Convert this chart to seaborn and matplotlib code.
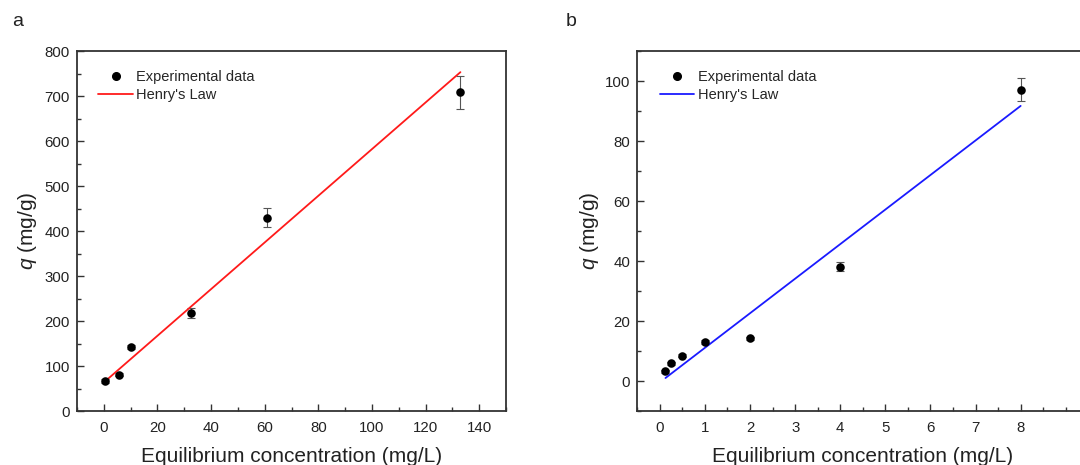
import numpy as np
import pandas as pd
import matplotlib
matplotlib.use("Agg")
import matplotlib.pyplot as plt
import seaborn as sns
from matplotlib.lines import Line2D

# ---------------- data ----------------
a_conc = [0.3, 5.8, 10.3, 32.5, 61.0, 133.0]
a_q = [67, 81, 142, 218, 430, 708]
a_err = [4, 4, 5, 11, 22, 36]
a_fit_x = [0.3, 133.0]
a_fit_y = [65, 753]

b_conc = [0.125, 0.25, 0.5, 1.0, 2.0, 4.0, 8.0]
b_q = [3.3, 6.0, 8.4, 13.1, 14.2, 38.1, 97.1]
b_err = [0.5, 0.5, 0.5, 0.6, 0.6, 1.5, 3.9]
b_fit_x = [0.125, 8.0]
b_fit_y = [1.0, 91.7]

a_xticks = [0, 20, 40, 60, 80, 100, 120, 140]
a_yticks = [0, 100, 200, 300, 400, 500, 600, 700, 800]
b_xticks = [0, 1, 2, 3, 4, 5, 6, 7, 8]
b_yticks = [0, 20, 40, 60, 80, 100]

xlabel = "Equilibrium concentration (mg/L)"
ylabel = r"$\mathit{q}$ (mg/g)"
legend_labels = ["Experimental data", "Henry's Law"]

sns.set_theme(style="ticks")
plt.rcParams['font.family'] = ['Liberation Sans', 'DejaVu Sans']
plt.rcParams['mathtext.fontset'] = 'custom'
plt.rcParams['mathtext.it'] = 'Liberation Sans:italic'
plt.rcParams['mathtext.rm'] = 'Liberation Sans'

fig = plt.figure(figsize=(10.8, 4.65), dpi=100)
W, H = 1080, 465
axA = fig.add_axes([77 / W, (H - 411) / H, (506 - 77) / W, 360 / H])
axB = fig.add_axes([637.3 / W, (H - 411) / H, 451 / W, 360 / H])

spine_col = "#333333"


def draw(ax, x, y, err, fx, fy, col, xlim, ylim, xt, yt, xminor, yminor, ylabpad, legx):
    df = pd.DataFrame({"x": x, "y": y})
    fit = pd.DataFrame({"x": fx, "y": fy})
    ax.errorbar(x, y, yerr=err, fmt="none", ecolor="#555555", elinewidth=0.8,
                capsize=2.8, capthick=0.8, zorder=2)
    sns.lineplot(data=fit, x="x", y="y", ax=ax, color=col, linewidth=1.3, zorder=3)
    sns.scatterplot(data=df, x="x", y="y", ax=ax, color="black", s=38,
                    edgecolor="black", linewidth=0, zorder=4)
    ax.set_xlim(*xlim)
    ax.set_ylim(*ylim)
    ax.set_xticks(xt)
    ax.set_yticks(yt)
    ax.set_xticks(xminor, minor=True)
    ax.set_yticks(yminor, minor=True)
    ax.tick_params(which="major", direction="in", length=5, width=1, color=spine_col,
                   labelsize=10.8, labelcolor="#222222", pad=5)
    ax.tick_params(which="minor", direction="in", length=3, width=1, color=spine_col)
    ax.tick_params(axis="x", pad=7)
    for s in ax.spines.values():
        s.set_color(spine_col)
        s.set_linewidth(1.3)
    ax.set_xlabel(xlabel, fontsize=15, color="#222222", labelpad=9)
    ax.set_ylabel(ylabel, fontsize=15, color="#222222", labelpad=ylabpad)
    handles = [
        Line2D([], [], linestyle="none", marker="o", color="black", markersize=5.5),
        Line2D([], [], color=col, linewidth=1.3),
    ]
    ax.legend(handles, legend_labels, loc="upper left", bbox_to_anchor=(legx, 0.947),
              frameon=False, fontsize=10.5, handlelength=2.35, handletextpad=0.25,
              borderpad=0, borderaxespad=0, labelspacing=0.28)


draw(axA, a_conc, a_q, a_err, a_fit_x, a_fit_y, "#ff1a1a",
     (-10, 150), (0, 800), a_xticks, a_yticks,
     np.arange(-10, 151, 10), np.arange(0, 801, 50), 4, 0.05)
draw(axB, b_conc, b_q, b_err, b_fit_x, b_fit_y, "#1a1aff",
     (-0.5, 9.5), (-10, 110), b_xticks, b_yticks,
     np.arange(-0.5, 9.6, 0.5), np.arange(-10, 111, 10), 3, 0.05)

fig.text(12 / W, 1 - 22 / H, "a", fontsize=14, va="center", ha="left", color="#222222")
fig.text(566 / W, 1 - 22 / H, "b", fontsize=14, va="center", ha="left", color="#222222")

fig.savefig("out.png", dpi=100, facecolor="white")
